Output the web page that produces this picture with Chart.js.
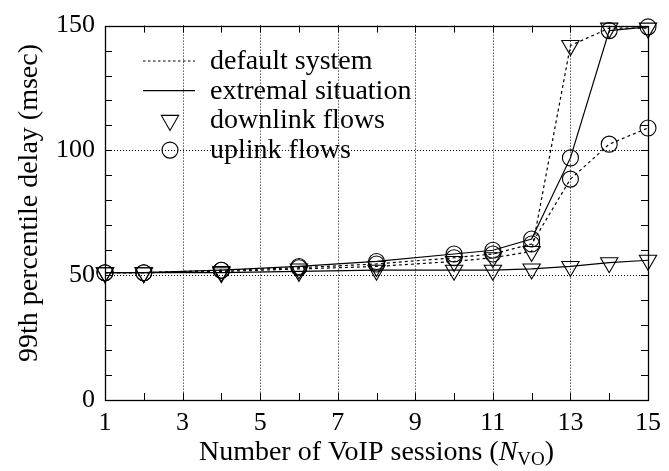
<!DOCTYPE html>
<html>
<head>
<meta charset="utf-8">
<script src="https://cdn.jsdelivr.net/npm/chart.js@4/dist/chart.umd.min.js"></script>
<style>
  html, body { margin: 0; padding: 0; background: #fff; }
</style>
</head>
<body>
<canvas id="c" width="669" height="471"></canvas>
<script>
// Number of VoIP sessions at which the delay was measured
const sessions = [1, 2, 4, 6, 8, 10, 11, 12, 13, 14, 15];
// 99th percentile delay (msec)
const downlinkDefault  = [51, 51, 51.5, 52.5, 53.5, 55.5, 57, 59.5, 142, 149, 149];
const downlinkExtremal = [51, 51, 51, 51.5, 52, 52, 52, 52.5, 53.5, 55, 56];
const uplinkDefault    = [51, 51, 52, 53, 54.5, 57, 58.5, 62.5, 88.5, 102.5, 109];
const uplinkExtremal   = [51, 51, 52, 53.5, 55.5, 58.5, 60, 64.5, 97, 148, 149.5];
// axis ticks
const yTickValues = [0, 50, 100, 150];
const xGridValues = [3, 5, 7, 9, 11, 13];
const yGridValues = [50, 100];
// legend entries
const legendLines = ['default system', 'extremal situation'];
const legendMarkers = ['downlink flows', 'uplink flows'];

const FONTQ = "'Liberation Serif'";
const pts = arr => sessions.map((s, i) => ({ x: s, y: arr[i] }));

function series(label, values, dashed, marker) {
  return {
    label,
    data: pts(values),
    borderColor: '#000',
    borderWidth: 1.2,
    borderDash: dashed ? [3, 3] : [],
    pointStyle: marker === 'tri' ? 'triangle' : 'circle',
    rotation: marker === 'tri' ? 180 : 0,
    pointRadius: marker === 'tri' ? 10 : 8,
    pointHoverRadius: marker === 'tri' ? 10 : 8,
    pointBorderWidth: 1.1,
    pointBorderColor: '#000',
    pointBackgroundColor: 'rgba(0,0,0,0)',
    tension: 0,
    fill: false,
    clip: false
  };
}

// frame, inward tick marks, dotted grid, legend and axis titles
const decor = {
  id: 'decor',
  beforeDatasetsDraw(chart) {
    const { ctx, chartArea: a, scales: { x, y } } = chart;
    ctx.save();
    ctx.strokeStyle = '#000';
    ctx.lineWidth = 1;
    ctx.setLineDash([1, 2]);
    xGridValues.forEach(v => {
      const px = Math.round(x.getPixelForValue(v)) + 0.5;
      ctx.beginPath(); ctx.moveTo(px, a.top); ctx.lineTo(px, a.bottom); ctx.stroke();
    });
    yGridValues.forEach(v => {
      const py = Math.round(y.getPixelForValue(v)) + 0.5;
      ctx.beginPath(); ctx.moveTo(a.left, py); ctx.lineTo(a.right, py); ctx.stroke();
    });
    ctx.setLineDash([]);
    const tl = 7;
    for (let v = 2; v <= 14; v++) {
      const px = Math.round(x.getPixelForValue(v)) + 0.5;
      ctx.beginPath();
      ctx.moveTo(px, a.bottom); ctx.lineTo(px, a.bottom - tl);
      ctx.moveTo(px, a.top); ctx.lineTo(px, a.top + tl);
      ctx.stroke();
    }
    for (let v = 10; v <= 140; v += 10) {
      const py = Math.round(y.getPixelForValue(v)) + 0.5;
      ctx.beginPath();
      ctx.moveTo(a.left, py); ctx.lineTo(a.left + tl, py);
      ctx.moveTo(a.right, py); ctx.lineTo(a.right - tl, py);
      ctx.stroke();
    }
    ctx.lineWidth = 1.3;
    ctx.strokeRect(Math.round(a.left) + 0.5, Math.round(a.top) + 0.5,
                   Math.round(a.right - a.left), Math.round(a.bottom - a.top));
    ctx.restore();
  },
  afterDraw(chart) {
    const { ctx, chartArea: a } = chart;
    ctx.save();
    ctx.fillStyle = '#000';
    ctx.strokeStyle = '#000';
    ctx.textBaseline = 'alphabetic';
    ctx.textAlign = 'left';

    // legend
    const lx0 = 143, lx1 = 195, mx = 170, tx = 210, row0 = 61, step = 29.7;
    legendLines.forEach((t, i) => {
      const ry = row0 + i * step;
      ctx.lineWidth = 1.2;
      ctx.setLineDash(i === 0 ? [2.5, 2.5] : []);
      ctx.beginPath(); ctx.moveTo(lx0, ry); ctx.lineTo(lx1, ry); ctx.stroke();
      ctx.setLineDash([]);
      ctx.font = '28px ' + FONTQ;
      ctx.fillText(t, tx, ry + 8);
    });
    legendMarkers.forEach((t, i) => {
      const ry = row0 + (i + 2) * step;
      ctx.lineWidth = 1.1;
      if (i === 0) {
        ctx.fillStyle = 'rgba(0,0,0,0)';
        Chart.helpers.drawPoint(ctx, { pointStyle: 'triangle', rotation: 180, radius: 10, borderWidth: 1.1 }, mx, ry);
        ctx.fillStyle = '#000';
      } else {
        ctx.beginPath(); ctx.arc(mx, ry, 8, 0, Math.PI * 2); ctx.stroke();
      }
      ctx.font = '28px ' + FONTQ;
      ctx.fillText(t, tx, ry + 8);
    });

    // x title with italic N and subscript VO
    const parts = [
      { t: 'Number of VoIP sessions (', f: '28px ' + FONTQ, dy: 0 },
      { t: 'N', f: 'italic 28px ' + FONTQ, dy: 0 },
      { t: 'VO', f: '19px ' + FONTQ, dy: 5 },
      { t: ')', f: '28px ' + FONTQ, dy: 0 }
    ];
    let w = 0;
    parts.forEach(p => { ctx.font = p.f; p.w = ctx.measureText(p.t).width; w += p.w; });
    let cx = (a.left + a.right) / 2 - w / 2;
    parts.forEach(p => { ctx.font = p.f; ctx.fillText(p.t, cx, 460 + p.dy); cx += p.w; });

    // y title
    ctx.font = '28px ' + FONTQ;
    ctx.translate(37, 203);
    ctx.rotate(-Math.PI / 2);
    ctx.textAlign = 'center';
    ctx.fillText('99th percentile delay (msec)', 0, 0);
    ctx.restore();
  }
};

new Chart(document.getElementById('c'), {
  type: 'line',
  data: {
    datasets: [
      series('downlink, default system', downlinkDefault, true, 'tri'),
      series('uplink, default system', uplinkDefault, true, 'circ'),
      series('downlink, extremal situation', downlinkExtremal, false, 'tri'),
      series('uplink, extremal situation', uplinkExtremal, false, 'circ')
    ]
  },
  options: {
    responsive: false,
    animation: false,
    events: [],
    layout: { padding: { top: 20, right: 14, left: 0, bottom: 0 } },
    plugins: { legend: { display: false }, tooltip: { enabled: false } },
    scales: {
      x: {
        type: 'linear',
        min: 1, max: 15,
        grid: { display: false, drawTicks: false },
        border: { display: false },
        ticks: {
          stepSize: 1,
          autoSkip: false,
          maxRotation: 0,
          padding: 8,
          color: '#000',
          font: { family: FONTQ, size: 26 },
          callback: v => (v % 2 === 1 ? String(v) : '')
        },
        afterFit: s => { s.height = 71; }
      },
      y: {
        min: 0, max: 150,
        grid: { display: false, drawTicks: false },
        border: { display: false },
        afterBuildTicks: s => { s.ticks = yTickValues.map(v => ({ value: v })); },
        ticks: {
          padding: 10,
          color: '#000',
          font: { family: FONTQ, size: 26 }
        },
        afterFit: s => { s.width = 105; }
      }
    }
  },
  plugins: [decor]
});
</script>
</body>
</html>
